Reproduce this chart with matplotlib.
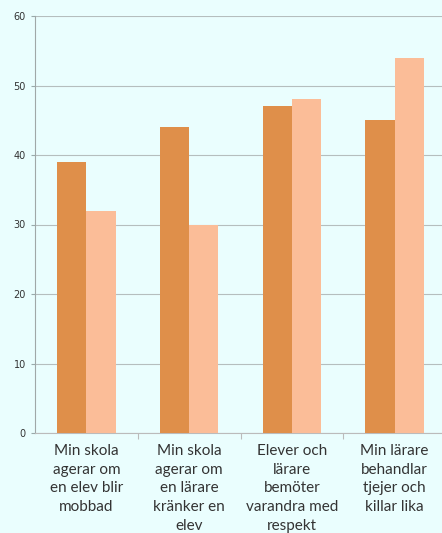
import numpy as np
import matplotlib.pyplot as plt

categories = [
    'Min skola\nagerar om\nen elev blir\nmobbad',
    'Min skola\nagerar om\nen lärare\nkränker en\nelev',
    'Elever och\nlärare\nbemöter\nvarandra med\nrespekt',
    'Min lärare\nbehandlar\ntjejer och\nkillar lika',
]
series_a = [39, 44, 47, 45]
series_b = [32, 30, 48, 54]

bg = '#EAFEFE'
fig = plt.figure(figsize=(4.42, 5.33), dpi=100, facecolor=bg)
ax = fig.add_axes([35 / 442, 100 / 533, 411 / 442, 417 / 533], facecolor=bg)

x = np.arange(len(categories))
width = 0.285
ax.bar(x - width / 2, series_a, width, color='#DF8F4A', zorder=3)
ax.bar(x + width / 2, series_b, width, color='#FBBD98', zorder=3)

ax.set_ylim(0, 60)
ax.set_xlim(-0.5, len(categories) - 0.5)
ax.set_yticks(range(0, 61, 10))
ax.yaxis.grid(True, color='#B5BEBE', linewidth=0.8, zorder=0)
ax.tick_params(axis='y', labelsize=7, colors='#9AA', labelcolor='#333', length=3, width=0.8)

# category labels centered, boundary ticks
ax.set_xticks(x)
ax.set_xticklabels(categories, fontsize=11, color='#333', linespacing=1.42,
                   fontfamily='Lato')
ax.tick_params(axis='x', length=0, pad=8)
ax.set_xticks(np.arange(0.5, len(categories) - 0.5), minor=True)
ax.tick_params(axis='x', which='minor', length=4, color='#BBBBBB', width=0.8)

for s in ['top', 'right']:
    ax.spines[s].set_visible(False)
ax.spines['left'].set_color('#A0A8A8')
ax.spines['bottom'].set_color('#BBBBBB')

fig.savefig('out.png', dpi=100, facecolor=bg)
